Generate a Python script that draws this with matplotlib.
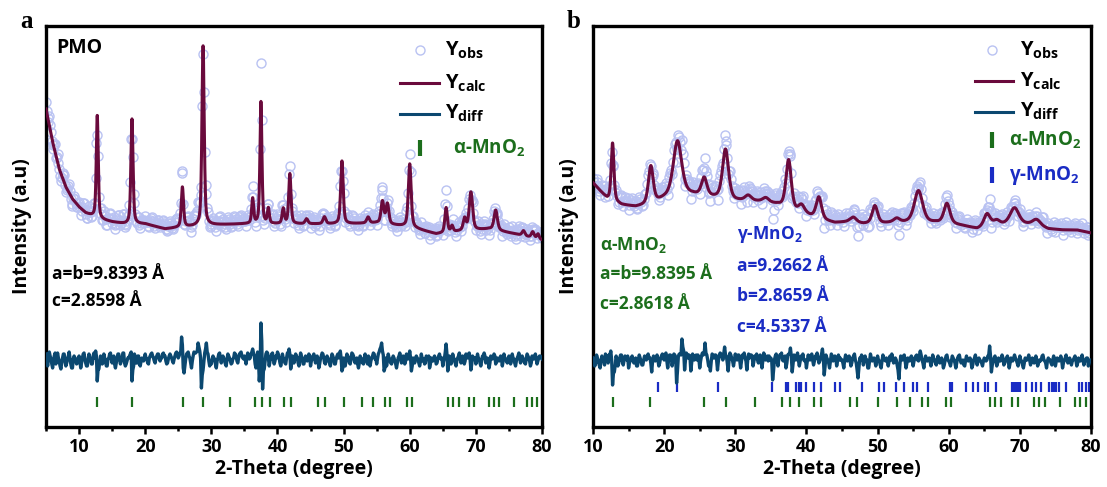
import numpy as np
import matplotlib
matplotlib.use("Agg")
import matplotlib.pyplot as plt
from matplotlib.ticker import MultipleLocator

plt.rcParams['font.family'] = ['Open Sans', 'DejaVu Sans']
plt.rcParams['font.weight'] = 'bold'
plt.rcParams['mathtext.fontset'] = 'custom'
plt.rcParams['mathtext.rm'] = 'Open Sans:bold'
plt.rcParams['mathtext.it'] = 'Open Sans:bold'
plt.rcParams['mathtext.bf'] = 'Open Sans:bold'

STEP = 0.125  # step of the observed / difference data (degree)

# ---------------- panel a : PMO (alpha-MnO2 only) ----------------
bg_a_pos = [5, 6, 7, 8, 9, 10, 11, 13, 15, 17, 20, 23, 26, 30, 35, 40, 45, 50, 55, 60, 64, 68, 72, 76, 80]
bg_a_val = [318, 285, 258, 240, 228, 220, 214, 208, 205, 203, 203, 198, 200, 202, 203, 203, 203, 203, 204, 200, 193, 196, 198, 193, 187]

peak_a_pos = [12.75, 18.0, 25.625, 28.75, 36.25, 37.5, 38.625, 40.875, 41.875, 44.4, 47.1, 49.75, 53.7,
              55.875, 56.625, 60.0, 65.5, 66.4, 68.3, 69.25, 73.0, 77.2, 78.6, 79.4]
peak_a_h = [103, 105, 40, 180, 25, 122, 15, 15, 50, 5, 7, 63, 6,
            22, 20, 63, 25, 6, 12, 38, 20, 5, 6, 5]
peak_a_w = [0.35, 0.38, 0.4, 0.4, 0.35, 0.35, 0.35, 0.4, 0.4, 0.5, 0.5, 0.45, 0.5,
            0.5, 0.5, 0.5, 0.45, 0.4, 0.5, 0.6, 0.6, 0.5, 0.5, 0.4]

# Yobs - Ycalc from 5 to 80 degree
diff_a = [7, 2, -5, 3, 9, 5, 2, -3, -7, 0, 5, 8, -3, 2, 8, 3, 0, -5, -8, -2,
          3, 7, 7, 0, -5, -2, 2, 5, 9, 3, -3, -7, -7, 2, 5, 3, 0, -3, -2, 3,
          5, 0, -7, -2, 3, 7, 8, 2, -2, -5, -5, 2, 7, 3, 2, -3, -3, 5, 8, 3,
          10, 5, -20, -8, -8, 0, 5, 2, -3, -2, 7, 3, 0, -5, -5, 2, 3, 7, 8, 2,
          -2, 3, 5, -3, -7, -2, 3, 7, 7, 2, -3, 0, 2, 8, 8, -2, -5, -3, 0, 3,
          3, 5, 7, 9, -20, -9, -5, 7, 3, -2, -2, 5, 5, -3, -5, 0, 3, 2, 0, 3,
          7, 3, 2, -2, -3, 3, 5, 7, 8, 5, 3, 0, -2, 3, 5, 7, 7, 2, 0, 3,
          3, 7, 8, 5, 5, 0, -3, -2, 2, 5, 7, 5, 3, 0, -2, 2, 5, 8, 9, 7,
          3, 5, 8, 9, 24, 16, -7, -12, -5, 2, 7, 8, 9, 5, 3, -2, -7, 0, 5, 9,
          8, 8, 9, 10, 18, 14, 10, 3, -27, -14, -9, 0, 8, 12, 18, 9, 7, 0, -5, -2,
          -3, 2, 5, 3, 2, -3, -7, 0, 3, 7, 8, 3, -2, 2, 5, 3, 0, -3, -5, 2,
          7, 5, 3, 0, -3, -2, 2, 3, 8, 7, 5, 0, -2, 3, 7, 8, 9, 5, 3, 2,
          5, 2, -3, 3, 8, 5, 2, 3, 7, 9, 12, 8, 5, -3, -7, 2, 9, 3, -20, -9,
          38, 20, -28, -10, -8, 0, 7, 9, 8, 3, -5, 0, 3, 7, 8, 2, -3, 0, 5, 3,
          9, 7, 3, -2, -5, 0, 7, 3, 2, -2, -3, 3, 8, 8, 12, 7, -8, -3, 5, 2,
          -2, 3, 7, 5, 3, -2, -5, 2, 8, 5, 2, -3, -3, 2, 5, 3, 0, 3, 7, 5,
          -5, 0, 3, 5, 7, 2, -2, 0, 5, 2, -7, -3, 2, 5, 8, 7, 3, -2, -3, 2,
          5, 3, 0, -2, -5, 2, 7, 5, 2, -3, -3, 2, 5, 7, 3, 5, 10, 3, -10, -7,
          3, 0, -5, 2, 7, 5, 2, -2, -3, 3, 8, 7, 5, 0, -2, 2, 3, -3, -7, -2,
          5, 3, 2, -2, -3, 2, 7, 3, 0, -3, 5, 2, -5, 0, 3, 5, 8, 7, 2, 3,
          -3, 2, 7, 9, 12, 14, 18, 10, 6, -10, -7, 3, -5, 0, 7, 3, 2, -2, -3, 2,
          5, 3, 0, -3, -7, -2, 3, 5, 8, 3, -2, 0, 5, 2, -3, 0, 7, 3, 2, 5,
          10, 3, -10, -5, 3, 2, -2, 3, 5, 3, 2, -2, -5, 0, 7, 3, 0, 2, -3, -2,
          5, 3, 2, 5, -7, -3, 3, 2, 0, 3, 5, 2, -3, -2, 2, 5, 7, 3, 2, 3,
          -5, 0, 3, 9, 17, 7, -10, -3, 5, 2, -3, 0, 7, 3, 2, -2, -5, 0, 3, 5,
          8, 3, -2, 2, 5, 2, -3, 0, 7, 5, 3, 7, 8, 2, -9, -3, 5, 3, 2, 3,
          -3, 2, 7, 3, 2, -2, -5, 0, 5, 3, 8, 5, -2, 2, 3, 0, -7, -2, 5, 3,
          2, 3, 7, 5, -3, 0, 3, 2, 0, 3, 5, 2, -5, 0, 7, 3, 2, 0, -2, 2,
          5, 2, -3, 0, 7, 3, 2, -2, -5, 0, 3, 5, 8, 3, -2, 2, 5, 3, 0, -2,
          -3, 2, 7, 5, 3, 0, -5, -2, 5, 3, 2, 5, 7, 2, -3, 0, 3, 5, 5, 3,
          2]

alpha_ticks = [12.75, 18.05, 25.65, 28.75, 32.8, 36.6, 37.65, 38.9, 41.05, 42.1, 46.1, 47.15, 50.0,
               52.75, 54.5, 56.2, 57.05, 59.55, 60.35, 65.8, 66.55, 67.4, 68.95, 69.75, 72.0,
               72.75, 73.5, 75.7, 77.7, 78.5, 79.25]

# ---------------- panel b : alpha + gamma MnO2 ----------------
bg_b_pos = [10, 11, 12, 14, 16, 18, 20, 22, 24, 26, 28, 30, 32, 34, 36, 38, 40, 42, 44, 46, 48,
            50, 52, 54, 56, 58, 60, 62, 64, 66, 68, 70, 72, 74, 76, 78, 80]
bg_b_val = [244, 236, 228, 222, 220, 222, 228, 232, 232, 230, 228, 226, 226, 225, 222, 215, 212,
            207, 204, 205, 203, 203, 204, 204, 203, 204, 203, 201, 198, 202, 202, 202, 203, 198,
            197, 197, 194]

peak_b_pos = [12.75, 18.125, 21.875, 25.625, 28.625, 31.8, 34.3, 37.5, 39.3, 41.75, 46.6, 49.625, 52.7,
              55.75, 59.75, 65.375, 66.75, 69.25, 72.4]
peak_b_h = [58, 38, 54, 18, 50, 5, 4, 50, 8, 22, 5, 18, 4, 33, 20, 12, 4, 17, 5]
peak_b_w = [0.45, 0.8, 1.4, 0.9, 1.0, 1.0, 1.0, 0.9, 1.0, 0.9, 1.0, 0.9, 1.0, 1.4, 1.0, 1.0,
            1.0, 1.5, 1.2]

# Yobs - Ycalc from 10 to 80 degree
diff_b = [5, 2, -3, 0, 8, 5, 2, -2, -5, 2, 7, 3, 3, -2, 9, 7, 5, 0, 8, 8,
          12, 3, -22, -10, -9, -2, 7, 3, -3, 0, 5, 8, 8, 2, -2, 3, 7, 5, 3, 7,
          -5, 0, 3, 5, 7, 2, 0, 3, 5, -3, -3, 2, 8, 5, 2, -2, -2, 3, 7, 5,
          3, 7, 9, 5, 5, 0, -9, 2, 7, 3, 2, 5, 8, 3, -3, 0, 5, 7, 9, 5,
          3, 8, 10, 2, -5, 3, 8, 8, 7, -3, 3, 9, 8, 5, -20, -8, 7, 9, 9, 8,
          24, 16, 12, -7, 3, 10, 8, 5, 8, 7, -8, 0, 9, 5, 3, 7, 8, 3, 8, 5,
          -5, 2, 7, 10, 8, 9, 20, 10, 8, 3, -3, 0, -8, 2, 9, 7, 5, 8, 8, 3,
          -7, 2, 8, 10, 9, 7, 3, 9, 16, 8, 7, 0, -8, 3, 10, 8, 5, 2, -3, 3,
          9, 5, 3, 8, 8, 3, -5, 2, 8, 7, 10, 5, 2, -7, 3, 9, 5, 8, 8, 7,
          -3, 2, 7, 5, 9, 3, 0, 5, 8, 2, -5, 3, 10, 7, 3, 5, 7, 2, 7, 3,
          5, 2, -17, -8, 3, 7, 9, 2, -3, 5, 8, 7, 10, 3, 2, 5, 7, -5, 0, 8,
          9, 9, 15, 7, -9, 0, 8, 5, 3, 7, 10, 3, -3, 2, 7, 5, 9, 3, 2, 3,
          -5, 2, 8, 5, 3, 7, 9, 3, -2, 2, 7, 5, 10, 5, 0, 2, 5, 9, 14, 5,
          -12, -3, 8, 5, 3, 0, -5, 2, 9, 7, 2, 3, 7, 5, -3, 2, 8, 3, 5, 3,
          3, 0, -5, 3, 8, 5, 2, 3, 7, 3, -3, 0, 5, 7, 9, 3, 0, -7, -15, -5,
          5, 3, 8, 5, -2, 2, 7, 3, 3, -5, -5, 2, 9, 5, 2, 3, 5, 2, -3, 2,
          7, 3, 2, -2, -5, 2, 8, 5, 3, 2, 5, 2, -3, 2, 7, 3, 9, 5, 0, 2,
          5, 3, -2, -7, -16, -3, 7, 5, 3, 7, 8, 2, -5, 0, 5, 3, 2, 5, 7, 3,
          -3, 2, 5, 7, 8, 3, 2, 7, 12, 8, 3, 0, -5, 2, 7, 3, 2, 3, 5, 2,
          -3, 2, 8, 5, 3, 0, -2, 3, 7, 3, 0, 2, 5, 2, -5, -2, 3, 7, 8, 3,
          2, 0, -3, 2, 7, 5, 3, 0, -5, 0, 5, 7, 8, 3, 0, 2, 3, -2, -3, 3,
          7, 3, 2, 3, 5, 2, -5, -2, 3, 5, 8, 3, -2, 2, 5, 3, 2, 0, -3, 2,
          5, 3, 2, 3, 7, 8, 17, 7, -9, -2, 3, 5, 7, 2, -3, 0, 5, 3, 2, 3,
          8, 5, -2, 0, 3, 5, 7, 2, -5, 0, 5, 3, 2, 5, 8, 5, 3, 0, -3, 2,
          7, 3, 2, -2, -5, 0, 5, 3, 3, 5, 8, 3, -2, 2, 5, 3, 0, 3, 7, 3,
          -3, 0, 3, 2, 3, 7, 8, 3, 2, 0, -5, 2, 5, 3, 3, 0, -2, 3, 7, 3,
          -3, 2, 5, 3, 2, 3, 7, 3, -5, 0, 3, 5, 8, 3, 0, 2, 5, 2, -2, 2,
          3, 5, 7, 3, -3, 0, 5, 3, 2, 3, 8, 3, -2, 2, 3, 5, 5, -3, 0, 3,
          3]

gamma_ticks = [19.15, 21.85, 27.55, 35.2, 37.15, 37.35, 38.55, 39.0, 39.25, 39.95, 41.05, 42.05,
               43.95, 44.65, 47.85, 50.15, 50.85, 52.55, 53.65, 54.95, 55.55, 57.05, 60.25, 60.4,
               62.45, 63.45, 64.1, 65.15, 65.55, 66.6, 68.9, 69.15, 69.45, 69.75, 70.05, 70.85,
               71.65, 72.25, 72.95, 74.15, 74.5, 74.8, 75.15, 75.45, 76.55, 78.25, 78.75, 79.25,
               79.75]

OBS = '#b9c2f2'
CALC = '#6a0a3c'
DIFF = '#0b4870'
GREEN = '#1c6e1c'
BLUE = '#1a2cc4'


def profile(t, bg_pos, bg_val, pos, h, w, eta=0.5):
    y = np.interp(t, bg_pos, bg_val).astype(float)
    for c, a, fw in zip(pos, h, w):
        z = (t - c) / fw
        y += a * (eta / (1 + 4 * z ** 2) + (1 - eta) * np.exp(-4 * np.log(2) * z ** 2))
    return y


def draw_panel(ax, t0, bg_pos, bg_val, pos, h, w, diff, diff_off):
    assert len(diff) == round((80 - t0) / STEP) + 1
    tt = np.linspace(t0, 80, int((80 - t0) / 0.02) + 1)
    calc = profile(tt, bg_pos, bg_val, pos, h, w)
    tg = t0 + STEP * np.arange(len(diff))
    obs = profile(tg, bg_pos, bg_val, pos, h, w) + np.array(diff)
    ax.plot(tg, obs, 'o', ms=6.5, mfc='none', mec=OBS, mew=1.0, zorder=2)
    ax.plot(tt, calc, color=CALC, lw=2.2, zorder=3)
    ax.plot(tg, np.array(diff) + diff_off, color=DIFF, lw=2.4, zorder=3)
    ax.set_xlim(t0, 80)
    ax.set_ylim(0, 401)
    ax.set_yticks([])
    ax.xaxis.set_major_locator(MultipleLocator(10))
    ax.xaxis.set_minor_locator(MultipleLocator(5))
    ax.tick_params(axis='x', which='major', length=5, width=1.8, labelsize=13, pad=3)
    ax.tick_params(axis='x', which='minor', length=3, width=1.8)
    for s in ax.spines.values():
        s.set_linewidth(2.4)
    ax.set_xlabel('2-Theta (degree)', fontsize=14, fontweight='bold', labelpad=2)
    ax.set_ylabel('Intensity (a.u)', fontsize=14, fontweight='bold', labelpad=10)


def legend_rows(ax, x_mark, x_line, x_text, x_phase, rows):
    # rows: (kind, y, label, colour)
    tr = ax.transAxes
    for kind, y, label, col in rows:
        if kind == 'obs':
            ax.plot([x_mark], [y], 'o', ms=6.5, mfc='none', mec=OBS, mew=1.0, transform=tr)
            ax.text(x_text, y, label, transform=tr, fontsize=14.5, va='center')
        elif kind == 'line':
            ax.plot(x_line, [y, y], color=col, lw=2.2, transform=tr)
            ax.text(x_text, y, label, transform=tr, fontsize=14.5, va='center')
        else:
            ax.plot([x_mark], [y], '|', ms=12, mew=3, color=col, transform=tr)
            ax.text(x_phase, y, label, transform=tr, fontsize=13.5, va='center', color=col)


fig = plt.figure(figsize=(11.07, 4.87), dpi=100)
ax_a = fig.add_axes([46 / 1107, 60 / 487, 496 / 1107, 401 / 487])
ax_b = fig.add_axes([593 / 1107, 60 / 487, 498 / 1107, 401 / 487])

draw_panel(ax_a, 5, bg_a_pos, bg_a_val, peak_a_pos, peak_a_h, peak_a_w, diff_a, 66)
ax_a.vlines(alpha_ticks, 20, 30, color=GREEN, lw=1.6)
ax_a.text(0.02, 0.945, 'PMO', transform=ax_a.transAxes, fontsize=14, va='center')
ax_a.text(0.012, 0.382, 'a=b=9.8393 Å', transform=ax_a.transAxes, fontsize=12.5, va='center')
ax_a.text(0.012, 0.315, 'c=2.8598 Å', transform=ax_a.transAxes, fontsize=12.5, va='center')
legend_rows(ax_a, 0.755, [0.714, 0.792], 0.805, 0.82, [
    ('obs', 0.94, r'Y$_{\mathrm{obs}}$', None),
    ('line', 0.858, r'Y$_{\mathrm{calc}}$', CALC),
    ('line', 0.781, r'Y$_{\mathrm{diff}}$', DIFF),
    ('tick', 0.696, r'α-MnO$_{\mathrm{2}}$', GREEN),
])

draw_panel(ax_b, 10, bg_b_pos, bg_b_val, peak_b_pos, peak_b_h, peak_b_w, diff_b, 64)
ax_b.vlines(alpha_ticks, 20, 30, color=GREEN, lw=1.6)
ax_b.vlines(gamma_ticks, 35, 45, color=BLUE, lw=1.6)
ax_b.text(0.015, 0.455, r'α-MnO$_{\mathrm{2}}$', transform=ax_b.transAxes, fontsize=12.5, va='center', color=GREEN)
ax_b.text(0.015, 0.381, 'a=b=9.8395 Å', transform=ax_b.transAxes, fontsize=12.5, va='center', color=GREEN)
ax_b.text(0.015, 0.306, 'c=2.8618 Å', transform=ax_b.transAxes, fontsize=12.5, va='center', color=GREEN)
ax_b.text(0.29, 0.48, r'γ-MnO$_{\mathrm{2}}$', transform=ax_b.transAxes, fontsize=12.5, va='center', color=BLUE)
ax_b.text(0.29, 0.401, 'a=9.2662 Å', transform=ax_b.transAxes, fontsize=12.5, va='center', color=BLUE)
ax_b.text(0.29, 0.326, 'b=2.8659 Å', transform=ax_b.transAxes, fontsize=12.5, va='center', color=BLUE)
ax_b.text(0.29, 0.249, 'c=4.5337 Å', transform=ax_b.transAxes, fontsize=12.5, va='center', color=BLUE)
legend_rows(ax_b, 0.801, [0.767, 0.843], 0.858, 0.835, [
    ('obs', 0.94, r'Y$_{\mathrm{obs}}$', None),
    ('line', 0.863, r'Y$_{\mathrm{calc}}$', CALC),
    ('line', 0.786, r'Y$_{\mathrm{diff}}$', DIFF),
    ('tick', 0.716, r'α-MnO$_{\mathrm{2}}$', GREEN),
    ('tick', 0.628, r'γ-MnO$_{\mathrm{2}}$', BLUE),
])

fig.text(20 / 1107, 1 - 22 / 487, 'a', family='Liberation Serif', fontsize=18, fontweight='bold', va='center')
fig.text(567 / 1107, 1 - 22 / 487, 'b', family='Liberation Serif', fontsize=18, fontweight='bold', va='center')

fig.savefig('out.png', dpi=100)
